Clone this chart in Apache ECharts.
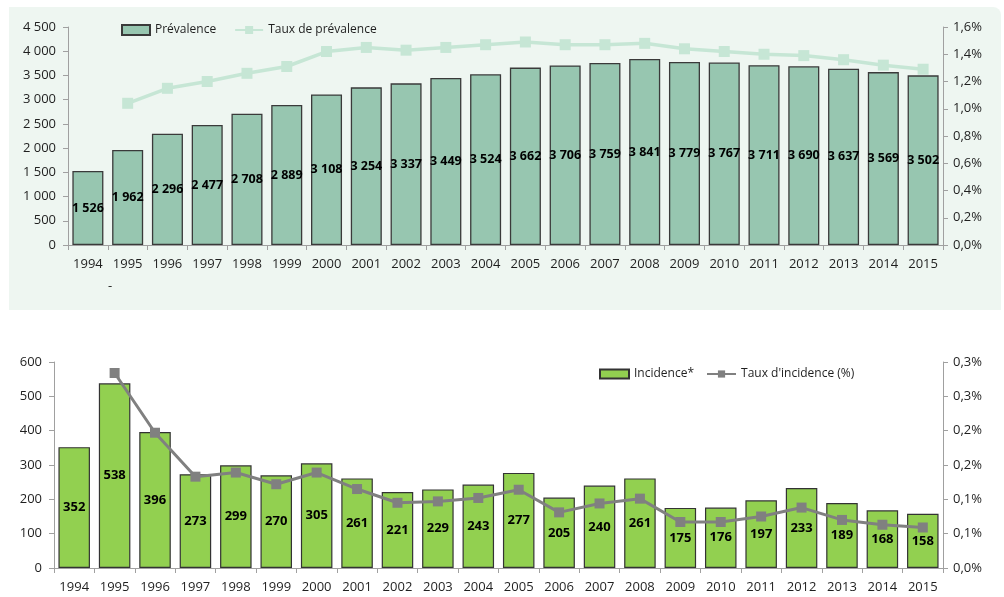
<!DOCTYPE html>
<html>
<head>
<meta charset="utf-8">
<script src="https://cdn.jsdelivr.net/npm/echarts@6/dist/echarts.min.js"></script>
<style>
html,body{margin:0;padding:0;background:#fff;}
#c{width:1004px;height:597px;}
</style>
</head>
<body>
<div id="c"></div>
<script>
const years = ['1994','1995','1996','1997','1998','1999','2000','2001','2002','2003','2004','2005','2006','2007','2008','2009','2010','2011','2012','2013','2014','2015'];
const prevalence = [1526,1962,2296,2477,2708,2889,3108,3254,3337,3449,3524,3662,3706,3759,3841,3779,3767,3711,3690,3637,3569,3502];
const prevRate = [null,1.04,1.15,1.20,1.26,1.31,1.42,1.45,1.43,1.45,1.47,1.49,1.47,1.47,1.48,1.44,1.42,1.40,1.39,1.36,1.32,1.29];
const incidence = [352,538,396,273,299,270,305,261,221,229,243,277,205,240,261,175,176,197,233,189,168,158];
const incRate = [null,0.284,0.197,0.133,0.139,0.122,0.139,0.115,0.095,0.097,0.102,0.114,0.081,0.094,0.101,0.067,0.067,0.075,0.088,0.070,0.063,0.059];

const FONT = 'Open Sans';
const TXT = '#1f1f1f';
const AX = '#a0a0a0';
function thousands(v){ return String(Math.round(v)).replace(/\B(?=(\d{3})+(?!\d))/g, ' '); }
function pct(v){ const r = Math.round(v*10 + 1e-9)/10; return r.toFixed(1).replace('.', ',') + '%'; }

const axisLineStyle = {show:true, lineStyle:{color:AX, width:1}};
const axisTick = {show:true, length:5, lineStyle:{color:AX}};
const yLabel = {color:TXT, fontFamily:FONT, fontSize:13};

const chart = echarts.init(document.getElementById('c'), null, {renderer:'canvas'});
chart.setOption({
  animation:false,
  backgroundColor:'#ffffff',
  graphic:[
    {type:'rect', z:-10, shape:{x:9, y:7, width:992, height:303, r:[0,8,0,0]}, style:{fill:'#eef6f1'}},
    {type:'text', z:10, x:108, y:280, style:{text:'-', fill:TXT, font:'13px "Open Sans"'}}
  ],
  legend:[
    {left:116, top:19, itemWidth:28, itemHeight:10, itemGap:18,
     textStyle:{color:TXT, fontFamily:FONT, fontSize:12},
     data:[{name:'Prévalence', icon:'rect'}, {name:'Taux de prévalence'}]},
    {left:594, top:363, itemWidth:29, itemHeight:9, itemGap:12,
     textStyle:{color:TXT, fontFamily:FONT, fontSize:12},
     data:[{name:'Incidence*', icon:'rect'}, {name:"Taux d'incidence (%)"}]}
  ],
  grid:[
    {left:68, right:61, top:27, height:218},
    {left:54, right:61, top:362, height:206}
  ],
  xAxis:[
    {type:'category', gridIndex:0, data:years, boundaryGap:true,
     axisLine:axisLineStyle, axisTick:axisTick,
     axisLabel:{color:TXT, fontFamily:FONT, fontSize:13, margin:13, interval:0}},
    {type:'category', gridIndex:1, data:years, boundaryGap:true,
     axisLine:axisLineStyle, axisTick:axisTick,
     axisLabel:{color:TXT, fontFamily:FONT, fontSize:13, margin:13, interval:0}}
  ],
  yAxis:[
    {type:'value', gridIndex:0, min:0, max:4500, interval:500, position:'left',
     axisLine:axisLineStyle, axisTick:axisTick, splitLine:{show:false},
     axisLabel:Object.assign({formatter:thousands, margin:12}, yLabel)},
    {type:'value', gridIndex:0, min:0, max:1.6, interval:0.2, position:'right',
     axisLine:axisLineStyle, axisTick:axisTick, splitLine:{show:false},
     axisLabel:Object.assign({formatter:v=>v.toFixed(1).replace('.',',')+'%', margin:10}, yLabel)},
    {type:'value', gridIndex:1, min:0, max:600, interval:100, position:'left',
     axisLine:axisLineStyle, axisTick:axisTick, splitLine:{show:false},
     axisLabel:Object.assign({margin:12}, yLabel)},
    {type:'value', gridIndex:1, min:0, max:0.3, interval:0.05, position:'right',
     axisLine:axisLineStyle, axisTick:axisTick, splitLine:{show:false},
     axisLabel:Object.assign({formatter:pct, margin:10}, yLabel)}
  ],
  series:[
    {name:'Prévalence', type:'bar', xAxisIndex:0, yAxisIndex:0, data:prevalence,
     barCategoryGap:'22%',
     itemStyle:{color:'#97c6b0', borderColor:'#3a3a3a', borderWidth:1.3},
     label:{show:true, position:'inside', formatter:p=>thousands(p.value),
            color:'#000', fontFamily:FONT, fontWeight:'bold', fontSize:12.5}},
    {name:'Taux de prévalence', type:'line', xAxisIndex:0, yAxisIndex:1, data:prevRate,
     symbol:'rect', symbolSize:11, z:5,
     lineStyle:{color:'#c6e6d5', width:3.5},
     itemStyle:{color:'#c6e6d5'}},
    {name:'Incidence*', type:'bar', xAxisIndex:1, yAxisIndex:2, data:incidence,
     barCategoryGap:'22%',
     itemStyle:{color:'#92d050', borderColor:'#333', borderWidth:1.2},
     label:{show:true, position:'inside', color:'#000', fontFamily:FONT, fontWeight:'bold', fontSize:13}},
    {name:"Taux d'incidence (%)", type:'line', xAxisIndex:1, yAxisIndex:3, data:incRate,
     symbol:'rect', symbolSize:10, z:5,
     lineStyle:{color:'#808080', width:3},
     itemStyle:{color:'#808080'}}
  ]
});
</script>
</body>
</html>
